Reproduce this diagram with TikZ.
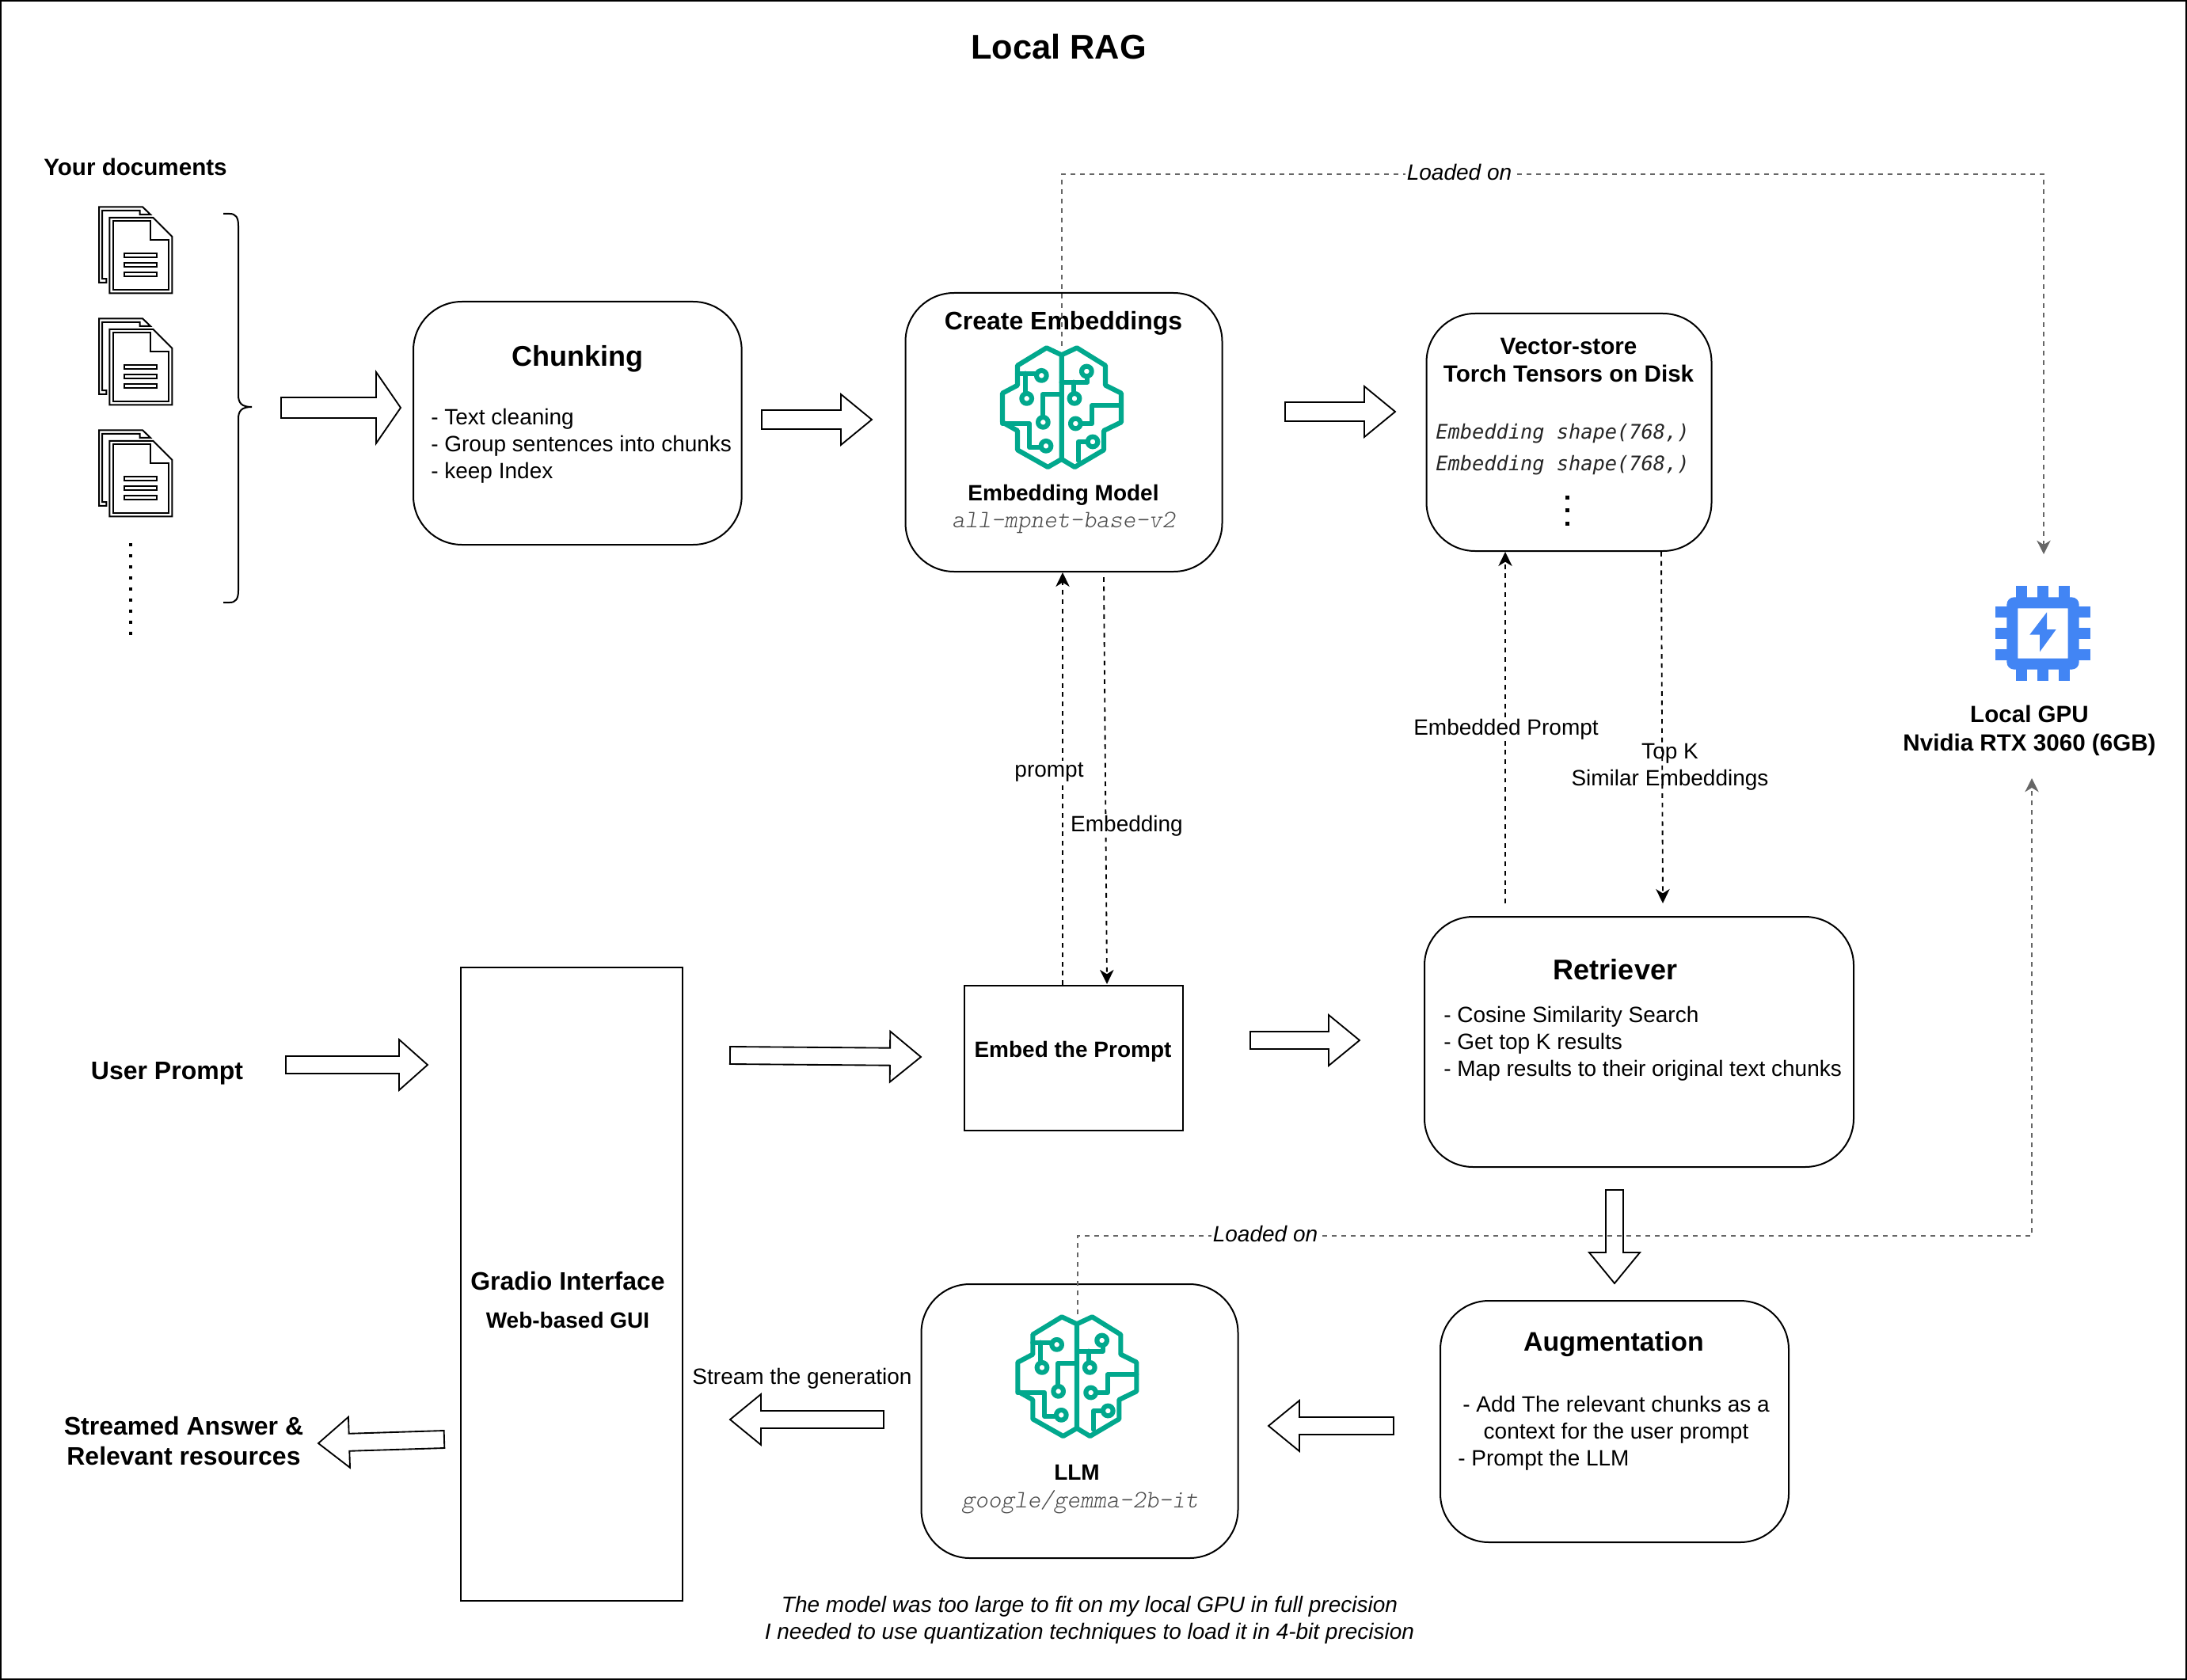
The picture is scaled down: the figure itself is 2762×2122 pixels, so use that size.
\documentclass[tikz,border=0pt]{standalone}
\usepackage{fontspec}
\setmainfont{Liberation Sans}
\newfontfamily\gmono{lmmonolt10-oblique.otf}
\newfontfamily\dmono{DejaVu Sans Mono}
\usetikzlibrary{arrows.meta,calc}
\definecolor{brainc}{HTML}{01A88D}
\definecolor{chipc}{HTML}{4285F4}
\definecolor{dashgrey}{HTML}{666666}
\newcommand{\pxfont}[2]{\fontsize{#1}{#2}\selectfont}
\tikzset{
  roundbox/.style={draw=black,fill=white,line width=1.5pt,rounded corners=46pt,anchor=north west,inner sep=0pt},
  plainbox/.style={draw=black,fill=white,line width=1.5pt,anchor=north west,inner sep=0pt},
  txt/.style={inner sep=0pt,font=\pxfont{21}{25.5},text=black},
  bold/.style={txt,font=\pxfont{21}{25.5}\bfseries},
  h24/.style={txt,font=\pxfont{24}{28}\bfseries},
  h22/.style={txt,font=\pxfont{22.2}{26.5}\bfseries},
  h27/.style={txt,font=\pxfont{27}{30}\bfseries},
  glabel/.style={txt,fill=white,inner sep=1.5pt},
  gmonotxt/.style={inner sep=0pt,font=\pxfont{23.7}{25.5}\gmono,text=black!70},
  dmonotxt/.style={inner sep=0pt,font=\pxfont{19}{25.5}\dmono\itshape,text=black!85},
  darrow/.style={draw=black,line width=1.4pt,dash pattern=on 4.4pt off 4.4pt,-{Stealth[length=13.5pt,width=13pt,inset=4pt]}},
  garrow/.style={draw=dashgrey,line width=1.3pt,dash pattern=on 4.5pt off 4.5pt,-{Stealth[length=13pt,width=13pt,inset=4pt]}},
  blockarrow/.style={draw=black,fill=white,line width=1.4pt,line join=miter},
  docline/.style={draw=black,line width=1.5pt,fill=white,line join=miter},
}
% block arrow: x1 y1 x2 y2 shaft-half head-length head-half
\newcommand{\barrow}[7]{%
  \pgfmathsetmacro{\bang}{atan2(-(#4-(#2)),#3-(#1))}%
  \pgfmathsetmacro{\blen}{veclen(#3-(#1),#4-(#2))}%
  \pgfmathsetmacro{\bneck}{\blen-#6}%
  \draw[blockarrow,shift={(#1,#2)},rotate=\bang]
    (0,-#5) -- (\bneck,-#5) -- (\bneck,-#7) -- (\blen,0) -- (\bneck,#7) -- (\bneck,#5) -- (0,#5) -- cycle;}
% document icon at offset
\newcommand{\docicon}[2]{%
\begin{scope}[shift={(#1,#2)},x=0.25pt,y=-0.29pt]
  \draw[docline] (105,55) -- (270,55) -- (300,80) -- (260,80) -- (260,67) -- (117,67) -- (117,290) -- (133,290) -- (133,302) -- (105,302) -- cycle;
  \draw[docline] (145,90) -- (310,90) -- (382,152) -- (382,337) -- (145,337) -- cycle;
  \draw[docline] (158,102) -- (300,102) -- (300,163) -- (369,163) -- (369,325) -- (158,325) -- cycle;
  \draw[docline] (202,207) rectangle (325,220);
  \draw[docline] (202,238) rectangle (325,251);
  \draw[docline] (202,269) rectangle (325,283);
\end{scope}}
% brain icon
\newcommand{\brainicon}[2]{%
\begin{scope}[shift={(#1,#2)},x=0.25pt,y=-0.25pt,draw=brainc,line width=4.6pt,line join=round,line cap=round]
  \draw (722,325) -- (665,298) -- (555,365) -- (555,440) -- (498,470) -- (498,580) -- (555,612) -- (555,685) -- (670,750) -- (722,720) -- cycle;
  \draw (722,325) -- (780,298) -- (888,365) -- (888,440) -- (948,470) -- (948,580) -- (882,612) -- (882,685) -- (772,750) -- (722,720);
  \draw (555,395) -- (620,395);
  \draw (585,395) -- (585,465);
  \draw (722,475) -- (650,475) -- (650,555);
  \draw (498,585) -- (600,585) -- (600,675) -- (638,675);
  \draw (722,428) -- (820,428) -- (820,410);
  \draw (768,428) -- (768,465);
  \draw (948,517) -- (838,517) -- (838,585) -- (800,585);
  \draw (785,725) -- (785,655) -- (815,655);
  \foreach \cx/\cy in {646/403,590/490,652/580,663/670,817/387,771/490,775/585,840/654}
    \draw (\cx,\cy) circle (19);
\end{scope}}
\begin{document}
\begin{tikzpicture}[x=0.75pt,y=-0.75pt]
\useasboundingbox (0,0) rectangle (2762,2122);
\fill[white] (0,0) rectangle (2762,2122);
\draw[black,line width=1.5pt] (1,1) rectangle (2761,2121);

% boxes
\node[roundbox,minimum width=311pt,minimum height=230.25pt] (chunk) at (521,380) {};
\node[roundbox,minimum width=300pt,minimum height=264pt] (embed) at (1142.5,369) {};
\node[roundbox,minimum width=270pt,minimum height=225pt] (vec) at (1800.5,395) {};
\node[roundbox,minimum width=406.5pt,minimum height=237pt] (retr) at (1798,1157) {};
\node[roundbox,minimum width=330pt,minimum height=228.75pt] (aug) at (1818,1642) {};
\node[roundbox,minimum width=300pt,minimum height=259.5pt] (llm) at (1162.5,1621) {};
\node[plainbox,minimum width=210pt,minimum height=600pt] (gradio) at (580.5,1221) {};
\node[plainbox,minimum width=207pt,minimum height=137.25pt] (eprompt) at (1217,1244) {};

% docs
\docicon{90}{240}
\docicon{90}{381}
\docicon{90}{522}
\draw[black,line width=3pt,dash pattern=on 3pt off 7.5pt] (165,686) -- (165,805);
\draw[black,line width=1.5pt] (282,270) -- (290,270) .. controls (298,270) and (301,275) .. (301,285) -- (301,499) .. controls (301,509) and (305,514) .. (318,514) .. controls (305,514) and (301,519) .. (301,529) -- (301,746) .. controls (301,756) and (298,761) .. (290,761) -- (282,761);

% icons
\brainicon{1100}{340}
\brainicon{1119.3}{1564}
\begin{scope}[shift={(2480,710)},x=0.25pt,y=-0.25pt]
  \fill[chipc,rounded corners=7pt,even odd rule] (163,133) rectangle (437,407) [sharp corners] (205,175) rectangle (395,365);
  \foreach \a in {197,279,361}{
    \fill[chipc] (\a,90) rectangle ++(42,46);
    \fill[chipc] (\a,404) rectangle ++(42,46);
  }
  \foreach \a in {167,249,331}{
    \fill[chipc] (120,\a) rectangle ++(46,42);
    \fill[chipc] (434,\a) rectangle ++(46,42);
  }
  \fill[chipc] (315,190) -- (250,275) -- (288,275) -- (288,340) -- (350,255) -- (315,255) -- cycle;
\end{scope}

% texts
\node[txt,font=\pxfont{32.5}{38}\bfseries] (title) at (1337,59) {Local RAG};
\node[h22] (yourdocs) at (171,211) {Your documents};
\node[h27] (chunktitle) at (729,453) {Chunking};
\node[txt,align=left,anchor=west] (chunktext) at (544,563) {- Text cleaning\\- Group sentences into chunks\\- keep Index};
\node[h24] (embedtitle) at (1343,408) {Create Embeddings};
\node[bold] (embedmodel) at (1343,625) {Embedding Model};
\node[gmonotxt] (embedname) at (1343,660) {all-mpnet-base-v2};
\node[h22,align=center] (vectitle) at (1981,455) {Vector-store\\Torch Tensors on Disk};
\node[dmonotxt,anchor=west] (shape1) at (1813,548) {Embedding shape(768,)};
\node[dmonotxt,anchor=west] (shape2) at (1813,588) {Embedding shape(768,)};
\draw[black,line width=3.75pt,dash pattern=on 3.75pt off 8.5pt] (1979,626) -- (1979,664);
\node[h27] (retrtitle) at (2040,1225) {Retriever};
\node[txt,align=left,anchor=west] (retrtext) at (1823,1318) {- Cosine Similarity Search\\- Get top K results\\- Map results to their original text chunks};
\node[txt,font=\pxfont{25.4}{30}\bfseries] (augtitle) at (2038,1698) {Augmentation};
\node[txt,align=center] (augtext) at (2041,1793) {- Add The relevant chunks as a\\context for the user prompt};
\node[txt,anchor=west] (augtext2) at (1841,1844) {- Prompt the LLM};
\node[h24] (gradiotitle) at (717,1618) {Gradio Interface};
\node[bold] (gradiosub) at (717,1667) {Web-based GUI};
\node[bold] (eptext) at (1355,1328) {Embed the Prompt};
\node[h24] (userprompt) at (211,1356) {User Prompt};
\node[h24,align=center] (answer) at (232,1820) {Streamed Answer \&\\Relevant resources};
\node[txt] (streamgen) at (1013,1741) {Stream the generation};
\node[bold] (llmtext) at (1360,1860) {LLM};
\node[gmonotxt] (llmname) at (1364,1897) {google/gemma-2b-it};
\node[txt,align=center,font=\pxfont{21}{25.5}\itshape] (note) at (1376,2046) {The model was too large to fit on my local GPU in full precision\\I needed to use quantization techniques to load it in 4-bit precision};
\node[h22,align=center] (gpu) at (2563,923) {Local GPU\\Nvidia RTX 3060 (6GB)};

% block arrows
\barrow{355}{515}{506}{515}{13}{31}{45}
\barrow{962}{530}{1101}{530}{12}{39}{32}
\barrow{1623}{520}{1762}{520}{12}{39}{32}
\barrow{361}{1345}{540}{1345}{11}{36}{32}
\barrow{922}{1333}{1163}{1335}{11}{39}{32}
\barrow{1579}{1314}{1717}{1314}{11}{39}{32}
\barrow{2039}{1503}{2039}{1621}{11}{39}{32}
\barrow{1760}{1801}{1602}{1801}{11}{39}{32}
\barrow{1116}{1793}{922}{1793}{11}{39}{32}
\barrow{561}{1818}{402}{1823}{11}{39}{32}

% coordinates and dashed connectors
\coordinate (brainA) at (1341,437);
\coordinate (gpuTop) at (2581,700);
\coordinate (brainB) at (1361,1660);
\coordinate (gpuBot) at (2566,983);
\coordinate (xprompt) at (1342,0);
\coordinate (xep) at (1901,0);
\coordinate (xtop) at (2098,0);
\coordinate (embStart) at (1394,729);
\coordinate (embEnd) at (1398,1243);
\coordinate (retrTopL) at (1901,1141);
\coordinate (retrTopR) at (2100,1141);

\draw[garrow] (brainA) -- (1341,220) -- (2581,220) -- (gpuTop);
\draw[garrow] (brainB) -- (1361,1561) -- (2566,1561) -- (gpuBot);
\draw[darrow] (xprompt |- eprompt.north) -- (xprompt |- embed.south);
\draw[darrow] (embStart) -- (embEnd);
\draw[darrow] (retrTopL) -- (xep |- vec.south);
\draw[darrow] (xtop |- vec.south) -- (retrTopR);

\node[glabel,font=\pxfont{21}{25.5}\itshape] (load1) at (1843,218) {Loaded on};
\node[glabel,font=\pxfont{21}{25.5}\itshape] (load2) at (1598,1558) {Loaded on};
\node[glabel] (promptlab) at (1325,975) {prompt};
\node[glabel] (emblab) at (1423,1043) {Embedding};
\node[glabel] (eplab) at (1902,921) {Embedded Prompt};
\node[txt,align=center] (topklab) at (2109,969) {Top K\hspace{5.5pt}\\Similar Embeddings};
\end{tikzpicture}
\end{document}
